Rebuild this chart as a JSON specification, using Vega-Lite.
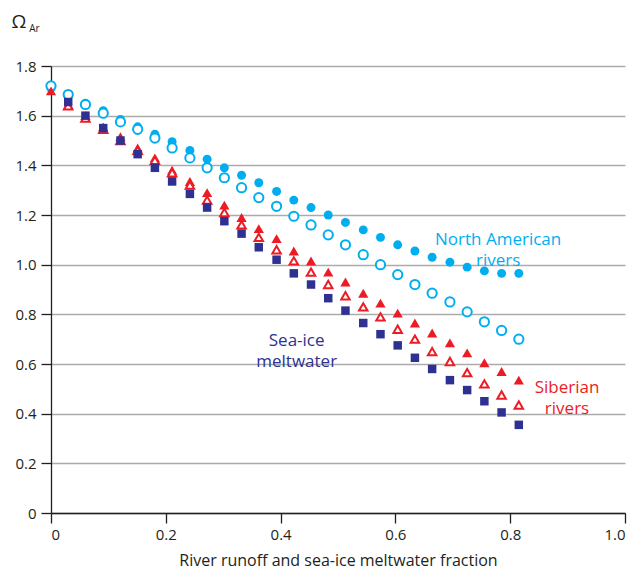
{
  "$schema": "https://vega.github.io/schema/vega-lite/v6.json",
  "width": 574,
  "height": 447,
  "autosize": "none",
  "padding": {"left": 51, "top": 66, "right": 12, "bottom": 58},
  "background": "white",
  "config": {
    "view": {"stroke": null},
    "font": "Open Sans",
    "axis": {"labelFont": "Open Sans", "titleFont": "Open Sans", "labelColor": "#231f20", "titleColor": "#231f20", "domainColor": "#231f20", "tickColor": "#231f20", "labelFontWeight": "normal", "titleFontWeight": "normal"}
  },
  "datasets": {
    "pts": [
      {"x": 0.000, "y": 1.710, "s": "NAf"}, {"x": 0.030, "y": 1.680, "s": "NAf"}, {"x": 0.060, "y": 1.650, "s": "NAf"}, {"x": 0.091, "y": 1.620, "s": "NAf"},
      {"x": 0.121, "y": 1.585, "s": "NAf"}, {"x": 0.151, "y": 1.555, "s": "NAf"}, {"x": 0.181, "y": 1.525, "s": "NAf"}, {"x": 0.211, "y": 1.495, "s": "NAf"},
      {"x": 0.242, "y": 1.460, "s": "NAf"}, {"x": 0.272, "y": 1.425, "s": "NAf"}, {"x": 0.302, "y": 1.390, "s": "NAf"}, {"x": 0.332, "y": 1.360, "s": "NAf"},
      {"x": 0.362, "y": 1.330, "s": "NAf"}, {"x": 0.393, "y": 1.295, "s": "NAf"}, {"x": 0.423, "y": 1.260, "s": "NAf"}, {"x": 0.453, "y": 1.230, "s": "NAf"},
      {"x": 0.483, "y": 1.200, "s": "NAf"}, {"x": 0.513, "y": 1.170, "s": "NAf"}, {"x": 0.544, "y": 1.140, "s": "NAf"}, {"x": 0.574, "y": 1.110, "s": "NAf"},
      {"x": 0.604, "y": 1.080, "s": "NAf"}, {"x": 0.634, "y": 1.055, "s": "NAf"}, {"x": 0.664, "y": 1.030, "s": "NAf"}, {"x": 0.695, "y": 1.010, "s": "NAf"},
      {"x": 0.725, "y": 0.990, "s": "NAf"}, {"x": 0.755, "y": 0.975, "s": "NAf"}, {"x": 0.785, "y": 0.965, "s": "NAf"}, {"x": 0.815, "y": 0.965, "s": "NAf"},

      {"x": 0.000, "y": 1.720, "s": "NAo"}, {"x": 0.030, "y": 1.685, "s": "NAo"}, {"x": 0.060, "y": 1.645, "s": "NAo"}, {"x": 0.091, "y": 1.610, "s": "NAo"},
      {"x": 0.121, "y": 1.575, "s": "NAo"}, {"x": 0.151, "y": 1.545, "s": "NAo"}, {"x": 0.181, "y": 1.510, "s": "NAo"}, {"x": 0.211, "y": 1.470, "s": "NAo"},
      {"x": 0.242, "y": 1.430, "s": "NAo"}, {"x": 0.272, "y": 1.390, "s": "NAo"}, {"x": 0.302, "y": 1.350, "s": "NAo"}, {"x": 0.332, "y": 1.310, "s": "NAo"},
      {"x": 0.362, "y": 1.270, "s": "NAo"}, {"x": 0.393, "y": 1.235, "s": "NAo"}, {"x": 0.423, "y": 1.195, "s": "NAo"}, {"x": 0.453, "y": 1.160, "s": "NAo"},
      {"x": 0.483, "y": 1.120, "s": "NAo"}, {"x": 0.513, "y": 1.080, "s": "NAo"}, {"x": 0.544, "y": 1.040, "s": "NAo"}, {"x": 0.574, "y": 1.000, "s": "NAo"},
      {"x": 0.604, "y": 0.960, "s": "NAo"}, {"x": 0.634, "y": 0.920, "s": "NAo"}, {"x": 0.664, "y": 0.885, "s": "NAo"}, {"x": 0.695, "y": 0.850, "s": "NAo"},
      {"x": 0.725, "y": 0.810, "s": "NAo"}, {"x": 0.755, "y": 0.770, "s": "NAo"}, {"x": 0.785, "y": 0.735, "s": "NAo"}, {"x": 0.815, "y": 0.700, "s": "NAo"},

      {"x": 0.000, "y": 1.700, "s": "Sf"}, {"x": 0.030, "y": 1.645, "s": "Sf"}, {"x": 0.060, "y": 1.600, "s": "Sf"}, {"x": 0.091, "y": 1.555, "s": "Sf"},
      {"x": 0.121, "y": 1.515, "s": "Sf"}, {"x": 0.151, "y": 1.470, "s": "Sf"}, {"x": 0.181, "y": 1.430, "s": "Sf"}, {"x": 0.211, "y": 1.380, "s": "Sf"},
      {"x": 0.242, "y": 1.335, "s": "Sf"}, {"x": 0.272, "y": 1.290, "s": "Sf"}, {"x": 0.302, "y": 1.240, "s": "Sf"}, {"x": 0.332, "y": 1.190, "s": "Sf"},
      {"x": 0.362, "y": 1.145, "s": "Sf"}, {"x": 0.393, "y": 1.105, "s": "Sf"}, {"x": 0.423, "y": 1.055, "s": "Sf"}, {"x": 0.453, "y": 1.015, "s": "Sf"},
      {"x": 0.483, "y": 0.970, "s": "Sf"}, {"x": 0.513, "y": 0.930, "s": "Sf"}, {"x": 0.544, "y": 0.885, "s": "Sf"}, {"x": 0.574, "y": 0.845, "s": "Sf"},
      {"x": 0.604, "y": 0.805, "s": "Sf"}, {"x": 0.634, "y": 0.765, "s": "Sf"}, {"x": 0.664, "y": 0.725, "s": "Sf"}, {"x": 0.695, "y": 0.685, "s": "Sf"},
      {"x": 0.725, "y": 0.645, "s": "Sf"}, {"x": 0.755, "y": 0.605, "s": "Sf"}, {"x": 0.785, "y": 0.570, "s": "Sf"}, {"x": 0.815, "y": 0.535, "s": "Sf"},

      {"x": 0.030, "y": 1.640, "s": "So"}, {"x": 0.060, "y": 1.590, "s": "So"}, {"x": 0.091, "y": 1.545, "s": "So"},
      {"x": 0.121, "y": 1.500, "s": "So"}, {"x": 0.151, "y": 1.460, "s": "So"}, {"x": 0.181, "y": 1.420, "s": "So"}, {"x": 0.211, "y": 1.370, "s": "So"},
      {"x": 0.242, "y": 1.320, "s": "So"}, {"x": 0.272, "y": 1.260, "s": "So"}, {"x": 0.302, "y": 1.210, "s": "So"}, {"x": 0.332, "y": 1.160, "s": "So"},
      {"x": 0.362, "y": 1.110, "s": "So"}, {"x": 0.393, "y": 1.060, "s": "So"}, {"x": 0.423, "y": 1.015, "s": "So"}, {"x": 0.453, "y": 0.970, "s": "So"},
      {"x": 0.483, "y": 0.920, "s": "So"}, {"x": 0.513, "y": 0.875, "s": "So"}, {"x": 0.544, "y": 0.830, "s": "So"}, {"x": 0.574, "y": 0.790, "s": "So"},
      {"x": 0.604, "y": 0.740, "s": "So"}, {"x": 0.634, "y": 0.700, "s": "So"}, {"x": 0.664, "y": 0.650, "s": "So"}, {"x": 0.695, "y": 0.610, "s": "So"},
      {"x": 0.725, "y": 0.565, "s": "So"}, {"x": 0.755, "y": 0.520, "s": "So"}, {"x": 0.785, "y": 0.475, "s": "So"}, {"x": 0.815, "y": 0.435, "s": "So"},

      {"x": 0.030, "y": 1.655, "s": "Ice"}, {"x": 0.060, "y": 1.600, "s": "Ice"}, {"x": 0.091, "y": 1.550, "s": "Ice"},
      {"x": 0.121, "y": 1.500, "s": "Ice"}, {"x": 0.151, "y": 1.445, "s": "Ice"}, {"x": 0.181, "y": 1.390, "s": "Ice"}, {"x": 0.211, "y": 1.335, "s": "Ice"},
      {"x": 0.242, "y": 1.285, "s": "Ice"}, {"x": 0.272, "y": 1.230, "s": "Ice"}, {"x": 0.302, "y": 1.175, "s": "Ice"}, {"x": 0.332, "y": 1.125, "s": "Ice"},
      {"x": 0.362, "y": 1.070, "s": "Ice"}, {"x": 0.393, "y": 1.020, "s": "Ice"}, {"x": 0.423, "y": 0.965, "s": "Ice"}, {"x": 0.453, "y": 0.920, "s": "Ice"},
      {"x": 0.483, "y": 0.865, "s": "Ice"}, {"x": 0.513, "y": 0.815, "s": "Ice"}, {"x": 0.544, "y": 0.765, "s": "Ice"}, {"x": 0.574, "y": 0.720, "s": "Ice"},
      {"x": 0.604, "y": 0.675, "s": "Ice"}, {"x": 0.634, "y": 0.625, "s": "Ice"}, {"x": 0.664, "y": 0.580, "s": "Ice"}, {"x": 0.695, "y": 0.535, "s": "Ice"},
      {"x": 0.725, "y": 0.495, "s": "Ice"}, {"x": 0.755, "y": 0.450, "s": "Ice"}, {"x": 0.785, "y": 0.405, "s": "Ice"}, {"x": 0.815, "y": 0.355, "s": "Ice"}
    ],
    "labels": [
      {"x": 0.779, "y": 1.100, "t": "North American\nrivers", "c": "NA"},
      {"x": 0.428, "y": 0.692, "t": "Sea-ice\nmeltwater", "c": "Ice"},
      {"x": 0.899, "y": 0.502, "t": "Siberian\nrivers", "c": "S"}
    ]
  },
  "data": {"name": "pts"},
  "layer": [
    {
      "transform": [{"filter": "datum.s === 'NAf'"}],
      "mark": {"type": "point", "shape": "circle", "filled": true, "color": "#00aeef", "opacity": 1, "size": 80, "clip": false},
      "encoding": {
        "x": {"field": "x", "type": "quantitative", "scale": {"domain": [0, 1], "nice": false},
          "axis": {"values": [0, 0.2, 0.4, 0.6, 0.8, 1.0], "labelExpr": "datum.value === 0 ? '0' : format(datum.value, '.1f')", "title": "River runoff and sea-ice meltwater fraction", "grid": false, "tickSize": 10, "tickWidth": 1.3, "domainWidth": 1.3, "labelFontSize": 15, "titleFontSize": 16, "labelPadding": 4, "titlePadding": 10}},
        "y": {"field": "y", "type": "quantitative", "scale": {"domain": [0, 1.8], "nice": false},
          "axis": {"values": [0, 0.2, 0.4, 0.6, 0.8, 1.0, 1.2, 1.4, 1.6, 1.8], "labelExpr": "datum.value === 0 ? '0' : format(datum.value, '.1f')", "title": "Ω", "titleAngle": 0, "titleAlign": "left", "titleBaseline": "alphabetic", "titleX": -40, "titleY": -39, "titleFontSize": 19, "grid": true, "gridColor": "#ababab", "gridWidth": 1.6, "tickSize": 10, "tickWidth": 1.3, "domainWidth": 1.3, "labelFontSize": 15, "labelPadding": 5}}
      }
    },
    {
      "transform": [{"filter": "datum.s === 'NAo'"}],
      "mark": {"type": "point", "shape": "circle", "filled": false, "fill": "white", "fillOpacity": 1, "stroke": "#00aeef", "strokeWidth": 2, "opacity": 1, "size": 85, "clip": false},
      "encoding": {"x": {"field": "x", "type": "quantitative"}, "y": {"field": "y", "type": "quantitative"}}
    },
    {
      "transform": [{"filter": "datum.s === 'Sf'"}],
      "mark": {"type": "point", "shape": "triangle-up", "filled": true, "color": "#ed1c24", "opacity": 1, "size": 105, "clip": false},
      "encoding": {"x": {"field": "x", "type": "quantitative"}, "y": {"field": "y", "type": "quantitative"}}
    },
    {
      "transform": [{"filter": "datum.s === 'So'"}],
      "mark": {"type": "point", "shape": "triangle-up", "filled": false, "fill": "white", "fillOpacity": 1, "stroke": "#ed1c24", "strokeWidth": 2, "opacity": 1, "size": 72, "clip": false},
      "encoding": {"x": {"field": "x", "type": "quantitative"}, "y": {"field": "y", "type": "quantitative"}}
    },
    {
      "transform": [{"filter": "datum.s === 'Ice'"}],
      "mark": {"type": "point", "shape": "square", "filled": true, "color": "#2e3192", "opacity": 1, "size": 72, "clip": false},
      "encoding": {"x": {"field": "x", "type": "quantitative"}, "y": {"field": "y", "type": "quantitative"}}
    },
    {
      "data": {"name": "labels"},
      "mark": {"type": "text", "lineBreak": "\n", "align": "center", "baseline": "middle", "fontSize": 17, "lineHeight": 21, "font": "Open Sans"},
      "encoding": {
        "x": {"field": "x", "type": "quantitative"},
        "y": {"field": "y", "type": "quantitative"},
        "text": {"field": "t"},
        "color": {"field": "c", "type": "nominal", "scale": {"domain": ["NA", "Ice", "S"], "range": ["#00aeef", "#2e3192", "#ed1c24"]}, "legend": null}
      }
    },
    {
      "data": {"values": [{"t": "Ar"}]},
      "mark": {"type": "text", "align": "left", "baseline": "alphabetic", "fontSize": 10, "color": "#231f20", "font": "Open Sans", "clip": false},
      "encoding": {
        "x": {"datum": -0.038, "type": "quantitative"},
        "y": {"datum": 1.937, "type": "quantitative"},
        "text": {"field": "t"}
      }
    }
  ]
}
